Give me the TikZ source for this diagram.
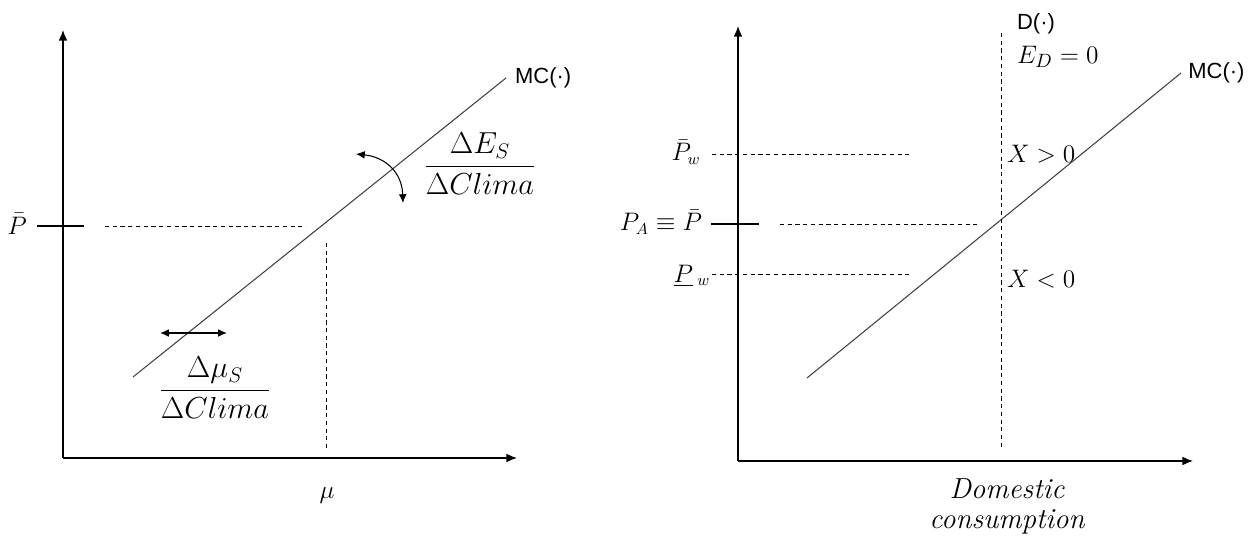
\documentclass[tikz,border=0pt]{standalone}
\usepackage{amsmath}
\usepackage{fontspec}
\newfontfamily\arialfont{Liberation Sans}
\usepackage{tikz}
\usetikzlibrary{arrows.meta,positioning}
\tikzset{
  ax/.style={line width=0.8pt,-{Latex[length=6pt,width=5pt]}},
  mcline/.style={line width=0.6pt,black!75},
  guide/.style={dash pattern=on 2.4pt off 2pt,line width=0.5pt},
  pbar/.style={line width=0.7pt},
  lab/.style={font=\fontsize{13.5}{16}\selectfont,inner sep=1pt},
  biglab/.style={font=\fontsize{15}{18}\selectfont,inner sep=1pt},
  sanslab/.style={font=\arialfont\fontsize{12.5}{15}\selectfont,inner sep=1pt},
  bigfrac/.style={font=\fontsize{17}{20}\selectfont,inner sep=0pt},
  move/.style={line width=0.9pt,{Latex[length=5pt,width=4.5pt]}-{Latex[length=5pt,width=4.5pt]}},
  turn/.style={line width=0.6pt,{Latex[length=5pt,width=4.5pt]}-{Latex[length=5pt,width=4.5pt]}}
}
\begin{document}
\begin{tikzpicture}[x=0.02cm,y=-0.02cm]
\useasboundingbox (0,0) rectangle (1254,536);

% left panel
\coordinate (O1) at (63,458);
\coordinate (Y1) at (63,30);
\coordinate (X1) at (517,458);
\draw[ax] (O1) -- (Y1);
\draw[ax] (O1) -- (X1);

\coordinate (mc1a) at (133,377);
\coordinate (mc1b) at (506,78);
\draw[mcline] (mc1a) -- (mc1b);
\node[sanslab, anchor=west] (mc1) at ([xshift=4pt]mc1b) {MC(·)};

\node[lab] (pbar1) at (17,224) {$\bar{P}$};
\draw[pbar] (37,226) -- (84,226);
\draw[guide] (105,226) -- (306,226);
\draw[guide] (326,243) -- (326,448);
\node[biglab] (mu) at (327,496) {$\mu$};

\coordinate (dl) at (160,333);
\coordinate (dr) at (227,333);
\draw[move] (dl) -- (dr);
\node[bigfrac, anchor=base] (fmu) at (215,398) {$\dfrac{\Delta\mu_S}{\Delta Clima}$};

\coordinate (ca) at (356,154);
\coordinate (cb) at (403,203);
\draw[turn] (ca) .. controls (385,157) and (402,172) .. (cb);
\node[bigfrac, anchor=base] (fes) at (480,174) {$\dfrac{\Delta E_S}{\Delta Clima}$};

% right panel
\coordinate (O2) at (738,461);
\coordinate (Y2) at (738,26);
\coordinate (X2) at (1193,461);
\draw[ax] (O2) -- (Y2);
\draw[ax] (O2) -- (X2);

\coordinate (mc2a) at (807,378);
\coordinate (mc2b) at (1181,73);
\draw[mcline] (mc2a) -- (mc2b);
\node[sanslab, anchor=west] (mc2) at ([xshift=3pt]mc2b) {MC(·)};

\coordinate (dtop) at (1001,33);
\coordinate (dbot) at (1001,450);
\draw[guide] (dtop) -- (dbot);
\node[sanslab, anchor=west] (dlab) at (1015,24) {D(·)};
\node[biglab, anchor=west] (edlab) at (1015,57) {$E_D=0$};

\node[lab] (pwbar) at (686,152) {$\bar{P}_w$};
\draw[guide] (712,154) -- (912,154);
\node[lab] (pa) at (661,222) {$P_A\equiv\bar{P}$};
\draw[pbar] (711,224) -- (759,224);
\draw[guide] (780,224) -- (979,224);
\node[lab] (pwlow) at (692,276) {$\underline{P}\,_w$};
\draw[guide] (712,274) -- (912,274);

\node[biglab, anchor=west] (xpos) at (1005,154) {$X>0$};
\node[biglab, anchor=west] (xneg) at (1005,279) {$X<0$};

\node[align=center, font=\fontsize{16.5}{17}\selectfont\itshape] (dom) at (1007,506) {Domestic\\consumption};

\end{tikzpicture}
\end{document}
